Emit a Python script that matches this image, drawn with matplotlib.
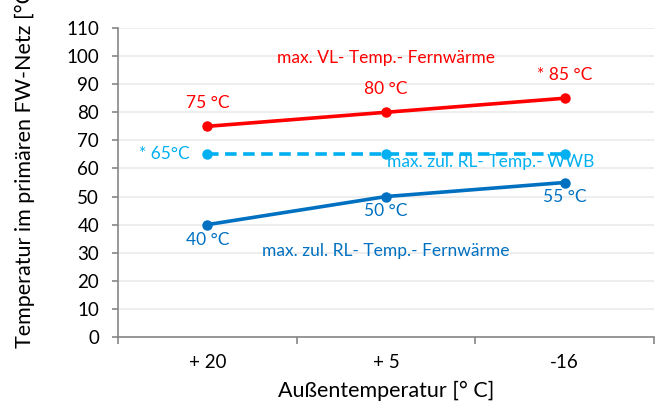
import matplotlib
matplotlib.use("Agg")
import matplotlib.pyplot as plt
import numpy as np

categories = ["+ 20", "+ 5", "-16"]
vl_fernwaerme = [75, 80, 85]
rl_wwb = [65, 65, 65]
rl_fernwaerme = [40, 50, 55]
vl_labels = ["75 °C", "80 °C", "* 85 °C"]
rl_labels = ["40 °C", "50 °C", "55 °C"]
wwb_label = "* 65°C"
yticks = list(range(0, 111, 10))

plt.rcParams['font.family'] = ['Lato', 'DejaVu Sans']

W, H = 664, 408
fig = plt.figure(figsize=(W/100, H/100), dpi=100)
ax = fig.add_axes([118/W, 1-337/H, (654-118)/W, (337-28)/H])

x = np.arange(len(categories))
red = "#FF0000"
lblue = "#00B0F0"
blue = "#0070C0"
ax.plot(x, vl_fernwaerme, color=red, lw=2.6, marker='o', ms=6.5, zorder=3)
ax.plot(x, rl_wwb, color=lblue, lw=2.6, ls=(0, (3.2, 1.8)), marker='o', ms=6.5, zorder=3)
ax.plot(x, rl_fernwaerme, color=blue, lw=2.6, marker='o', ms=6.5, zorder=3)

ax.set_xlim(-0.5, 2.5)
ax.set_ylim(0, 110)
ax.set_yticks(yticks)
ax.set_xticks(x)
ax.set_xticklabels(categories, fontsize=13.5)
ax.tick_params(axis='x', length=0, pad=12)
ax.set_xticks([-0.5, 0.5, 1.5, 2.5], minor=True)
ax.tick_params(axis='x', which='minor', length=5, color="#868686", width=1.2)
ax.tick_params(axis='y', labelsize=13.5, length=4.5, color="#868686", width=1.2, pad=9)
ax.yaxis.grid(True, color="#EBEBEB", lw=1.2)
ax.set_axisbelow(True)
for s in ['top', 'right']:
    ax.spines[s].set_visible(False)
for s in ['left', 'bottom']:
    ax.spines[s].set_color("#868686")
    ax.spines[s].set_linewidth(1.2)

ax.set_xlabel("Außentemperatur [° C]", fontsize=15.5, labelpad=7)
fig.text(25/W, 1-348/H, "Temperatur im primären FW-Netz [°C]", rotation=90,
         ha='center', va='bottom', fontsize=15.5)

fs = 12.5
ax.annotate("max. VL- Temp.- Fernwärme", (1, 99.3), color=red, fontsize=fs, ha='center', va='center')
for i, (v, t) in enumerate(zip(vl_fernwaerme, vl_labels)):
    ax.annotate(t, (i, v), xytext=(0, 11), textcoords='offset points', color=red,
                fontsize=fs, ha='center', va='bottom')
ax.annotate(wwb_label, (0, rl_wwb[0]), xytext=(-13, 0), textcoords='offset points',
            color=lblue, fontsize=fs, ha='right', va='center')
ax.annotate("max. zul. RL- Temp.- WWB", (1, rl_wwb[1]), xytext=(1, 0), textcoords='offset points',
            color=lblue, fontsize=fs, ha='left', va='top')
for i, (v, t) in enumerate(zip(rl_fernwaerme, rl_labels)):
    ax.annotate(t, (i, v), xytext=(0, -5), textcoords='offset points', color=blue,
                fontsize=fs, ha='center', va='top')
ax.annotate("max. zul. RL- Temp.- Fernwärme", (1, 30.5), color=blue, fontsize=fs,
            ha='center', va='center')

fig.savefig("out.png", dpi=100)
